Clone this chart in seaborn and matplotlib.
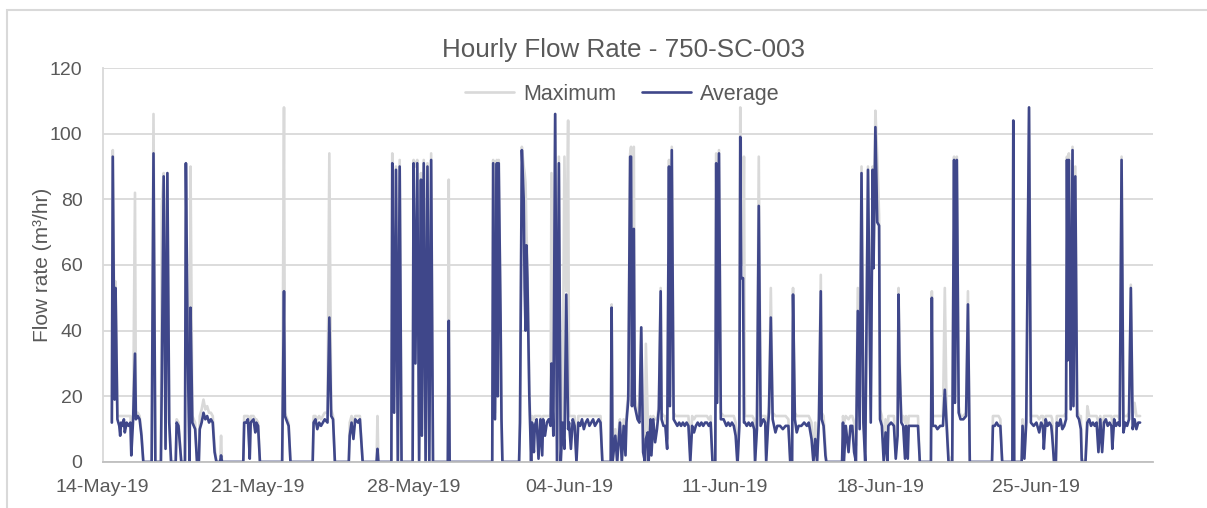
import matplotlib
matplotlib.use("Agg")
import matplotlib.pyplot as plt
import matplotlib.dates as mdates
from matplotlib.patches import Rectangle
import pandas as pd
import seaborn as sns

# hourly readings, hours counted from 14-May-19 00:00
hours = [
    10, 11, 13, 14, 16, 18, 19, 20, 22, 23,
    24, 26, 28, 30, 31, 33, 35, 36, 38, 40,
    42, 44, 53, 55, 57, 63, 64, 66, 68, 70,
    72, 74, 79, 80, 82, 85, 89, 90, 92, 94,
    95, 97, 100, 102, 104, 105, 107, 109, 111, 113,
    115, 117, 119, 121, 123, 127, 128, 129, 152, 153,
    155, 157, 159, 160, 163, 165, 166, 168, 170, 194,
    196, 197, 201, 203, 227, 228, 230, 232, 234, 236,
    238, 240, 243, 245, 247, 249, 251, 266, 267, 269,
    271, 273, 276, 278, 281, 296, 297, 298, 312, 313,
    315, 317, 319, 321, 323, 335, 336, 338, 340, 342,
    344, 345, 347, 349, 351, 353, 355, 357, 373, 374,
    375, 421, 422, 424, 426, 427, 428, 430, 431, 432,
    450, 451, 453, 455, 456, 457, 458, 459, 461, 463,
    464, 466, 467, 469, 471, 473, 475, 476, 478, 480,
    482, 484, 485, 487, 489, 491, 493, 495, 497, 499,
    501, 503, 504, 506, 508, 510, 512, 514, 516, 518,
    520, 522, 524, 526, 528, 530, 532, 534, 536, 538,
    540, 549, 550, 551, 554, 556, 558, 559, 561, 563,
    565, 566, 568, 570, 571, 572, 574, 575, 578, 580,
    582, 584, 586, 587, 589, 590, 592, 593, 595, 597,
    599, 601, 603, 604, 606, 608, 610, 612, 613, 615,
    617, 619, 621, 623, 625, 627, 629, 631, 633, 635,
    637, 639, 641, 643, 645, 647, 649, 651, 653, 655,
    657, 659, 662, 663, 664, 666, 668, 671, 674, 676,
    678, 680, 682, 684, 686, 688, 689, 690, 692, 693,
    694, 696, 698, 700, 702, 704, 705, 707, 709, 711,
    714, 716, 717, 719, 720, 722, 724, 727, 729, 732,
    735, 738, 741, 743, 745, 746, 748, 750, 752, 755,
    758, 761, 763, 766, 768, 770, 772, 774, 776, 777,
    779, 781, 782, 799, 800, 801, 803, 806, 808, 810,
    812, 814, 816, 818, 820, 822, 824, 827, 830, 832,
    833, 835, 837, 839, 840, 842, 844, 846, 848, 849,
    852, 855, 857, 859, 860, 861, 863, 865, 867, 868,
    870, 871, 873, 876, 879, 881, 883, 895, 896, 897,
    900, 902, 905, 908, 910, 912, 914, 918, 920, 921,
    923, 925, 927, 930, 933, 935, 937, 961, 962, 964,
    966, 968, 970, 972, 983, 984, 985, 993, 994, 996,
    998, 1001, 1003, 1006, 1009, 1010, 1012, 1014, 1016, 1017,
    1019, 1021, 1023, 1025, 1026, 1028, 1030, 1031, 1033, 1035,
    1037, 1039, 1041, 1042, 1043, 1044, 1046, 1048, 1049, 1051,
    1053, 1055, 1057, 1058, 1062, 1064, 1066, 1068, 1070, 1072,
    1074, 1076, 1078, 1080, 1082, 1084, 1086, 1088, 1090, 1091,
    1093, 1095, 1097, 1099, 1101, 1103, 1105, 1107, 1109, 1111,
    1113, 1115, 1117, 1119, 1121,
]

average = [
    12, 93, 19, 53, 13, 11, 8, 12, 11, 13,
    9, 12, 11, 12, 2, 13, 33, 13, 14, 13,
    8, 0, 0, 94, 0, 0, 26, 87, 4, 88,
    12, 0, 0, 12, 11, 0, 0, 91, 33, -1,
    47, 12, 10, 0, 0, 10, 12, 15, 13, 14,
    12, 13, 12, 3, 0, 0, 2, 0, 0, 12,
    12, 13, 1, 12, 13, 9, 12, 11, 0, 0,
    52, 14, 11, 0, 0, 12, 13, 10, 12, 11,
    12, 13, 12, 44, 14, 13, 0, 0, 8, 12,
    7, 13, 12, 13, 0, 0, 4, 0, 0, 91,
    15, 89, -1, 90, 0, 0, 91, 30, 91, 0,
    86, 8, 91, 0, 90, 0, 92, 0, 0, 43,
    0, 0, 91, 13, 91, 20, 91, 44, 13, 0,
    0, 12, 95, 80, 53, 40, 66, 56, 21, 0,
    12, 3, 11, 13, 1, 13, 2, 13, 8, 12,
    13, 11, 30, 8, 106, 0, 91, 0, 12, 4,
    51, 10, 12, 4, 13, 11, 0, 12, 11, 13,
    10, 12, 13, 11, 12, 13, 11, 12, 13, 12,
    0, 0, 47, 0, 8, 0, 8, 12, 0, 11,
    2, 12, 19, 93, 93, 17, 71, 17, 13, 12,
    41, 3, 0, 7, 9, 0, 13, 2, 13, 6,
    10, 16, 52, 13, 11, 11, 4, 90, 17, 95,
    13, 12, 11, 12, 11, 12, 11, 12, 11, 0,
    11, 9, 11, 12, 11, 12, 11, 12, 12, 11,
    12, 0, 0, 91, 18, 94, 13, 13, 11, 12,
    11, 12, 11, 8, -1, 11, 99, 56, 56, 12,
    12, 11, 12, 11, 12, 10, 0, 10, 78, 11,
    13, 12, 0, 11, 15, 44, 13, 9, 11, 11,
    10, 11, 11, 0, 0, 51, 13, 9, 11, 11,
    12, 11, 12, 7, 0, 7, 0, 13, 52, 13,
    11, 2, 0, 0, 12, 0, 11, 3, 11, 11,
    3, 0, 46, 10, 88, 12, 0, 89, 12, 89,
    59, 102, 73, 72, 13, 11, 0, 9, 0, 11,
    12, 11, 1, 8, 51, 30, 12, 11, 1, 11,
    1, 11, 11, 11, 11, 11, 0, 0, 50, 11,
    11, 10, 11, 11, 22, 11, 0, 0, 92, 18,
    92, 15, 13, 13, 14, 48, 0, 0, 11, 11,
    12, 11, 11, 0, 0, 104, 0, 0, 11, 1,
    12, 108, 12, 11, 12, 11, 9, 12, 11, 4,
    13, 11, 12, 11, 8, 0, 0, 12, 11, 13,
    10, 11, 13, 92, 31, 92, 16, 95, 17, 87,
    14, 13, 10, 0, 0, 12, 13, 11, 12, 11,
    12, 3, 13, 3, 12, 13, 11, 12, 11, 4,
    13, 11, 12, 11, 92, 9, 12, 11, 13, 53,
    10, 13, 10, 12, 12,
]

maximum = [
    12, 95, 30, 55, 14, 14, 14, 14, 14, 14,
    14, 14, 14, 14, 10, 14, 82, 14, 15, 14,
    9, 0, 0, 106, 0, 0, 78, 88, 5, 88,
    13, 0, 0, 13, 12, 0, 0, 91, 40, 0,
    90, 14, 12, 0, 0, 14, 16, 19, 16, 17,
    15, 15, 14, 5, 0, 0, 8, 0, 0, 14,
    14, 14, 2, 14, 14, 13, 13, 12, 0, 0,
    108, 15, 12, 0, 0, 14, 14, 13, 14, 13,
    14, 15, 15, 94, 16, 14, 0, 0, 12, 14,
    12, 14, 14, 14, 0, 0, 14, 0, 0, 94,
    20, 90, 0, 92, 0, 0, 92, 90, 92, 1,
    88, 10, 92, 0, 91, 0, 94, 0, 0, 86,
    0, 0, 92, 15, 92, 25, 92, 45, 14, 0,
    0, 13, 96, 90, 88, 85, 70, 60, 25, 0,
    14, 13, 14, 14, 14, 14, 13, 14, 14, 14,
    14, 14, 88, 14, 106, 0, 93, 0, 14, 93,
    52, 104, 14, 14, 14, 14, 2, 14, 14, 14,
    14, 14, 14, 14, 14, 14, 14, 14, 14, 14,
    0, 0, 48, 0, 10, 0, 11, 13, 0, 13,
    5, 14, 22, 94, 96, 20, 96, 20, 15, 14,
    41, 6, 0, 36, 14, 2, 14, 8, 14, 13,
    13, 17, 53, 15, 14, 14, 7, 92, 20, 96,
    15, 14, 14, 14, 14, 14, 14, 14, 14, 3,
    14, 13, 14, 14, 14, 14, 14, 14, 14, 13,
    14, 0, 0, 94, 20, 95, 15, 14, 14, 14,
    14, 14, 14, 12, 0, 13, 108, 90, 60, 93,
    14, 14, 14, 14, 14, 13, 0, 13, 93, 14,
    14, 14, 2, 14, 17, 53, 15, 14, 14, 14,
    14, 14, 13, 0, 0, 53, 15, 14, 14, 14,
    14, 14, 14, 12, 0, 12, 0, 15, 57, 15,
    14, 5, 0, 0, 14, 12, 14, 13, 14, 14,
    12, 5, 53, 14, 90, 14, 3, 90, 16, 90,
    62, 107, 93, 75, 16, 14, 3, 13, 2, 14,
    14, 14, 5, 12, 53, 35, 14, 14, 12, 14,
    10, 14, 14, 14, 14, 14, 0, 0, 52, 14,
    14, 14, 14, 14, 53, 14, 2, 0, 93, 20,
    93, 17, 14, 14, 15, 52, 0, 0, 14, 14,
    14, 14, 13, 0, 0, 104, 0, 0, 13, 3,
    14, 108, 14, 14, 14, 14, 13, 14, 14, 10,
    14, 14, 14, 14, 13, 0, 0, 14, 14, 14,
    14, 14, 15, 93, 40, 94, 20, 96, 20, 90,
    16, 14, 14, 1, 0, 17, 14, 14, 14, 14,
    14, 12, 14, 10, 14, 14, 14, 14, 14, 12,
    14, 14, 14, 13, 93, 14, 14, 14, 15, 54,
    14, 18, 14, 14, 14,
]

tick_dates = ["2019-05-14", "2019-05-21", "2019-05-28", "2019-06-04",
              "2019-06-11", "2019-06-18", "2019-06-25"]
y_ticks = [0, 20, 40, 60, 80, 100, 120]

assert len(hours) == len(average) == len(maximum)

start = pd.Timestamp("2019-05-14")
df = pd.DataFrame({
    "time": start + pd.to_timedelta(hours, unit="h"),
    "Average": average,
    "Maximum": maximum,
})

sns.set_theme(style="white")
plt.rcParams["font.family"] = ["Liberation Sans", "DejaVu Sans"]

text_col = "#595959"
grid_col = "#d9d9d9"
blue = "#3f478a"

fig = plt.figure(figsize=(12.07, 5.08), dpi=100)
ax = fig.add_axes([0.085, 0.0906, 0.8703, 0.7755])

sns.lineplot(data=df, x="time", y="Maximum", color=grid_col, linewidth=1.9,
             label="Maximum", ax=ax)
sns.lineplot(data=df, x="time", y="Average", color=blue, linewidth=1.9,
             label="Average", ax=ax)

ax.set_xlim(start, start + pd.Timedelta(hours=1135))
ax.set_ylim(0, 120)
ax.set_yticks(y_ticks)
ax.set_xticks(pd.to_datetime(tick_dates))
ax.xaxis.set_major_formatter(mdates.DateFormatter("%d-%b-%y"))

ax.yaxis.grid(True, color=grid_col, linewidth=1.3)
ax.xaxis.grid(False)
ax.set_axisbelow(True)
for s in ["top", "right"]:
    ax.spines[s].set_visible(False)
ax.spines["left"].set_color(grid_col)
ax.spines["left"].set_linewidth(1.3)
ax.spines["bottom"].set_color("#bfbfbf")
ax.spines["bottom"].set_linewidth(1.3)

ax.tick_params(axis="x", length=0, pad=12, labelsize=14, labelcolor=text_col)
ax.tick_params(axis="y", length=0, pad=14.5, labelsize=14, labelcolor=text_col)

ax.set_xlabel("")
ax.set_ylabel("Flow rate (m³/hr)", fontsize=15, color=text_col)
ax.yaxis.set_label_coords(-0.048, 0.5)

ax.legend(loc="center", bbox_to_anchor=(0.4945, 0.934), ncol=2, frameon=False,
          fontsize=15.5, handlelength=2.3, handletextpad=0.4, columnspacing=1.2,
          labelcolor=text_col)

fig.text(623 / 1207, 1 - 57 / 508, "Hourly Flow Rate - 750-SC-003",
         ha="center", va="baseline", fontsize=18.7, color=text_col)

# light frame round the chart, as in the spreadsheet export
fig.add_artist(Rectangle((7 / 1207, -0.05), 1.0, 1.05 - 10 / 508,
                         transform=fig.transFigure, fill=False,
                         edgecolor=grid_col, linewidth=1.5))

fig.savefig("out.png", dpi=100)
plt.close(fig)
